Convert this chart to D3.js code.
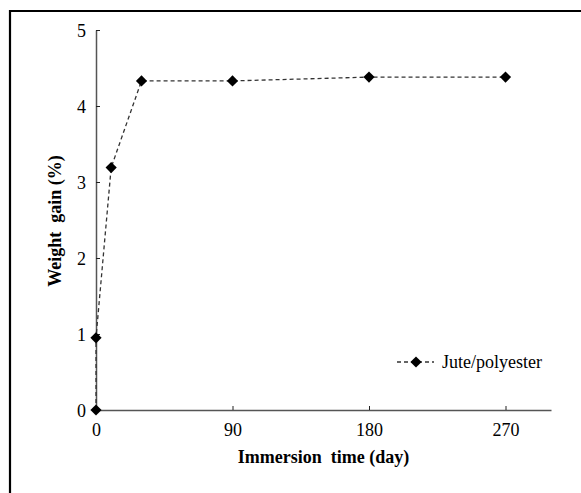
<!DOCTYPE html>
<html><head><meta charset="utf-8">
<script src="https://cdn.jsdelivr.net/npm/d3@7"></script>
<style>body{margin:0;background:#fff}svg{display:block}text{font-family:"Liberation Serif","Times New Roman",serif}</style>
</head><body>
<svg id="c" width="581" height="493"></svg>
<script>
const days = [0, 0, 10, 30, 90, 180, 270];
const weightGain = [0, 0.95, 3.19, 4.33, 4.33, 4.38, 4.38];
const xTicks = [0, 90, 180, 270];
const yTicks = [0, 1, 2, 3, 4, 5];
const seriesName = "Jute/polyester";

const svg = d3.select("#c");
// outer frame (left and top edges visible)
svg.append("path").attr("d","M10,493 V11 H581").attr("fill","none").attr("stroke","#000").attr("stroke-width",2.2);

const x = d3.scaleLinear().domain([0,300]).range([96,551]);
const y = d3.scaleLinear().domain([0,5]).range([410,30]);

const axisColor = "#555";
// y axis
const gy = svg.append("g").attr("transform","translate(96,0)")
  .call(d3.axisRight(y).tickValues(yTicks).tickSize(4).tickSizeOuter(0).tickFormat(d3.format("d")));
gy.select(".domain").attr("stroke",axisColor).attr("stroke-width",1.5);
gy.selectAll(".tick line").attr("stroke","#222").attr("stroke-width",1);
gy.selectAll(".tick text").attr("x",-10).attr("text-anchor","end").attr("font-size",18).attr("fill","#000").attr("dy","0.35em");

// x axis
const gx = svg.append("g").attr("transform","translate(0,410)")
  .call(d3.axisTop(x).tickValues(xTicks).tickSize(4).tickSizeOuter(0).tickFormat(d3.format("d")));
gx.select(".domain").attr("stroke",axisColor).attr("stroke-width",1.5);
gx.selectAll(".tick line").attr("stroke","#222").attr("stroke-width",1);
gx.selectAll(".tick text").attr("y",26).attr("dy",0).attr("font-size",18).attr("fill","#000");

// titles
svg.append("text").attr("x",323.5).attr("y",463).attr("text-anchor","middle")
  .attr("font-size",18).attr("font-weight","bold").style("white-space","pre").text("Immersion  time (day)");
svg.append("text").attr("transform","translate(61,221) rotate(-90)").attr("text-anchor","middle")
  .attr("font-size",18).attr("font-weight","bold").style("white-space","pre").text("Weight  gain (%)");

const data = days.map((d,i)=>({d, v: weightGain[i]}));
const line = d3.line().x(p=>x(p.d)).y(p=>y(p.v));
svg.append("path").datum(data).attr("d",line).attr("fill","none")
  .attr("stroke","#333").attr("stroke-width",1.3).attr("stroke-dasharray","4,3");

const diamond = d3.symbol().type(d3.symbolDiamond2).size(80);
svg.selectAll(".pt").data(data).enter().append("path")
  .attr("transform",p=>`translate(${x(p.d)},${y(p.v)})`)
  .attr("d",diamond).attr("fill","#000");

// legend
const lg = svg.append("g");
lg.append("line").attr("x1",397).attr("x2",434).attr("y1",362).attr("y2",362)
  .attr("stroke","#333").attr("stroke-width",1.3).attr("stroke-dasharray","4,3");
lg.append("path").attr("transform","translate(416,362)").attr("d",diamond).attr("fill","#000");
lg.append("text").attr("x",442).attr("y",368).attr("font-size",18).text(seriesName);
</script>
</body></html>
